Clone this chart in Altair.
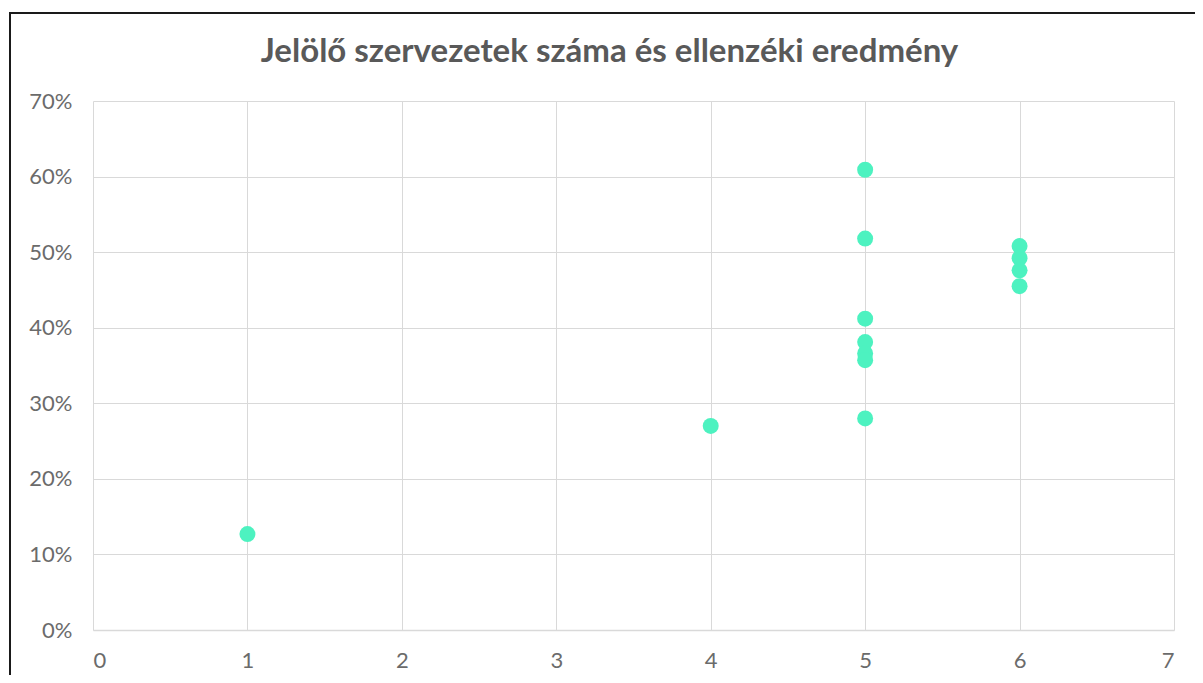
import altair as alt
import pandas as pd

# Number of nominating organisations (x) and opposition result (y)
organisations = [1, 4, 5, 5, 5, 5, 5, 5, 5, 6, 6, 6, 6]
result = [0.127, 0.270, 0.609, 0.518, 0.412, 0.381, 0.366, 0.357, 0.280,
          0.508, 0.492, 0.476, 0.455]

x_ticks = [0, 1, 2, 3, 4, 5, 6, 7]
y_ticks = [0, 0.1, 0.2, 0.3, 0.4, 0.5, 0.6, 0.7]

df = pd.DataFrame({"szervezetek": organisations, "eredmeny": result})

FONT = "Lato"
LABEL_COLOR = "#6b6b6b"
GRID = "#d9d9d9"

points = alt.Chart(df).mark_circle(size=255, opacity=1, color="#4df2c0").encode(
    x=alt.X("szervezetek:Q",
            scale=alt.Scale(domain=[0, 7], nice=False, zero=False),
            axis=alt.Axis(values=x_ticks, title=None, format="d", grid=True,
                          gridColor=GRID, domainColor=GRID, domainWidth=1.5,
                          ticks=False, labelPadding=20, labelFontSize=22,
                          labelFont=FONT, labelColor=LABEL_COLOR)),
    y=alt.Y("eredmeny:Q",
            scale=alt.Scale(domain=[0, 0.7], nice=False),
            axis=alt.Axis(values=y_ticks, title=None, format=".0%", grid=True,
                          gridColor=GRID, domain=False, ticks=False,
                          labelPadding=21, labelFontSize=22, labelFont=FONT,
                          labelColor=LABEL_COLOR)),
)

frame_df = pd.DataFrame({"k": [0]})
left_border = alt.Chart(frame_df).mark_rule(color="#1a1a1a", strokeWidth=2).encode(
    x=alt.value(-83), y=alt.value(-89), y2=alt.value(600))
top_border = alt.Chart(frame_df).mark_rule(color="#1a1a1a", strokeWidth=2).encode(
    y=alt.value(-88), x=alt.value(-84), x2=alt.value(1120))

chart = alt.layer(left_border, top_border, points).properties(
    width=1081,
    height=529,
    autosize=alt.AutoSizeParams(type="none"),
    padding={"left": 85, "top": 93, "right": 21, "bottom": 45},
    title=alt.TitleParams(
        "Jelölő szervezetek száma és ellenzéki eredmény",
        font=FONT, fontSize=33, fontWeight="bold", color="#595959",
        anchor="middle", dx=-24, offset=-58,
    ),
).configure_view(stroke=None)

chart.save("out.html", embed_options={"renderer": "svg", "actions": False})
